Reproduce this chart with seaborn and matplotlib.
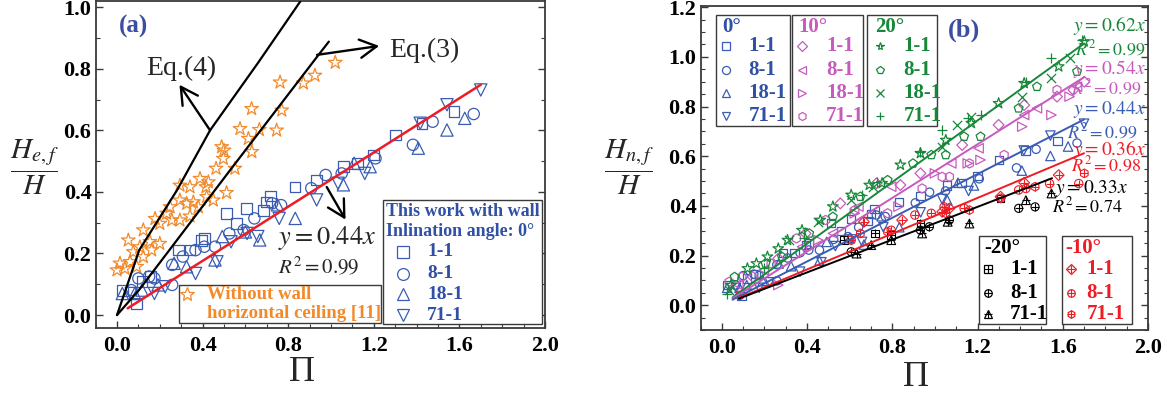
import matplotlib
matplotlib.use("Agg")
import matplotlib.pyplot as plt
import seaborn as sns
from matplotlib.patches import Rectangle
from matplotlib.ticker import MultipleLocator

# ---------------------------------------------------------------- data
# (a) flame extension, horizontal ceiling without wall (literature)
stars_x = [1.02, 0.925, 0.871, 0.762, 0.77, 0.629, 0.575, 0.665, 0.746, 0.614, 0.489, 0.5,
           0.497, 0.63, 0.551, 0.463, 0.427, 0.388, 0.294, 0.341, 0.416, 0.512, 0.419, 0.45,
           0.357, 0.294, 0.248, 0.326, 0.38, 0.232, 0.178, 0.256, 0.294, 0.2, 0.341, 0.123,
           0.154, 0.053, 0.107, 0.162, 0.2, 0.076, 0.014, 0.061, 0.123, 0.0, 0.037, 0.092]
stars_y = [0.82, 0.778, 0.753, 0.756, 0.665, 0.67, 0.605, 0.602, 0.60, 0.573, 0.546, 0.535,
           0.508, 0.53, 0.476, 0.476, 0.432, 0.443, 0.421, 0.416, 0.416, 0.397, 0.384, 0.373,
           0.367, 0.373, 0.351, 0.362, 0.351, 0.33, 0.313, 0.308, 0.308, 0.297, 0.321, 0.276,
           0.238, 0.243, 0.221, 0.211, 0.232, 0.205, 0.168, 0.173, 0.189, 0.146, 0.151, 0.157]

# inclination 0 deg (with wall)
a0_11_x = [0.025, 0.092, 0.117, 0.158, 0.287, 0.341, 0.396, 0.408, 0.512, 0.558, 0.606, 0.684,
           0.70, 0.717, 0.832, 0.933, 1.058, 1.125, 1.2, 1.3, 1.425, 1.575]
a0_11_y = [0.081, 0.038, 0.108, 0.125, 0.211, 0.211, 0.243, 0.249, 0.33, 0.298, 0.346, 0.34,
           0.367, 0.387, 0.416, 0.439, 0.482, 0.491, 0.52, 0.585, 0.623, 0.661]
a0_81_x = [0.067, 0.1, 0.15, 0.175, 0.258, 0.258, 0.308, 0.367, 0.408, 0.458, 0.525, 0.592,
           0.642, 0.725, 0.767, 0.908, 0.975, 1.05, 1.208, 1.383, 1.475, 1.667]
a0_81_y = [0.081, 0.119, 0.125, 0.119, 0.098, 0.163, 0.19, 0.211, 0.222, 0.222, 0.265, 0.276,
           0.314, 0.363, 0.357, 0.412, 0.455, 0.46, 0.509, 0.553, 0.628, 0.653]
a0_181_x = [0.025, 0.083, 0.117, 0.192, 0.267, 0.325, 0.458, 0.492, 0.60, 0.667, 0.75, 0.833,
            1.058, 1.108, 1.183, 1.408, 1.542, 1.625]
a0_181_y = [0.07, 0.07, 0.081, 0.098, 0.168, 0.157, 0.179, 0.255, 0.27, 0.244, 0.358, 0.314,
            0.423, 0.493, 0.482, 0.542, 0.601, 0.639]
a0_711_x = [0.067, 0.175, 0.225, 0.367, 0.467, 0.533, 0.608, 0.658, 0.758, 0.933, 1.033, 1.158,
            1.417, 1.542, 1.70]
a0_711_y = [0.07, 0.07, 0.092, 0.135, 0.173, 0.238, 0.265, 0.255, 0.314, 0.374, 0.428, 0.46,
            0.623, 0.683, 0.731]

# empirical correlations Eq.(4) and Eq.(3)
eq4_x = [0.0, 0.104, 0.28, 0.435, 0.66, 0.858]
eq4_y = [0.0, 0.211, 0.405, 0.60, 0.82, 1.02]
eq3_x = [0.0, 0.107, 0.528, 0.933, 0.99]
eq3_y = [0.0, 0.085, 0.47, 0.837, 0.888]

# (b) inclination 20 deg
a20_11_x = [0.043, 0.12, 0.162, 0.214, 0.265, 0.308, 0.376, 0.462, 0.521, 0.607, 0.692, 0.752,
            0.838, 0.932, 1.051, 1.171, 1.299, 1.419, 1.581, 1.701]
a20_11_y = [0.081, 0.148, 0.168, 0.195, 0.228, 0.262, 0.302, 0.343, 0.397, 0.444, 0.484, 0.491,
            0.565, 0.612, 0.665, 0.733, 0.813, 0.894, 0.961, 1.062]
a20_81_x = [0.06, 0.205, 0.282, 0.41, 0.521, 0.65, 0.778, 0.897, 0.983, 1.051, 1.137, 1.214,
            1.393, 1.479, 1.667]
a20_81_y = [0.114, 0.168, 0.195, 0.289, 0.356, 0.437, 0.504, 0.571, 0.605, 0.605, 0.679, 0.679,
            0.793, 0.88, 0.941]
a20_181_x = [0.034, 0.316, 0.453, 0.607, 0.709, 1.034, 1.103, 1.171, 1.41, 1.547, 1.632]
a20_181_y = [0.06, 0.262, 0.336, 0.423, 0.477, 0.638, 0.726, 0.759, 0.84, 0.914, 0.995]
a20_711_x = [0.026, 0.197, 0.385, 0.658, 0.726, 0.932, 1.034, 1.154, 1.214, 1.427, 1.547, 1.692]
a20_711_y = [0.047, 0.148, 0.269, 0.444, 0.497, 0.618, 0.706, 0.753, 0.766, 0.9, 0.995, 1.069]

# inclination 10 deg
a10_11_x = [0.145, 0.265, 0.393, 0.556, 0.726, 0.838, 0.932, 1.128, 1.299, 1.419, 1.573, 1.65, 1.701]
a10_11_y = [0.114, 0.188, 0.289, 0.41, 0.491, 0.484, 0.531, 0.645, 0.726, 0.806, 0.84, 0.867, 0.9]
a10_81_x = [0.077, 0.197, 0.376, 0.521, 0.641, 0.795, 1.077, 1.205, 1.419, 1.479, 1.667]
a10_81_y = [0.081, 0.141, 0.235, 0.289, 0.397, 0.477, 0.571, 0.632, 0.766, 0.793, 0.88]
a10_181_x = [0.265, 0.453, 0.624, 0.829, 1.0, 1.154, 1.214, 1.41, 1.547, 1.632]
a10_181_y = [0.081, 0.262, 0.37, 0.397, 0.531, 0.571, 0.585, 0.719, 0.766, 0.84]
a10_711_x = [0.034, 0.094, 0.231, 0.35, 0.487, 0.624, 0.778, 0.94, 1.034, 1.068, 1.162, 1.325, 1.573]
a10_711_y = [0.094, 0.114, 0.168, 0.269, 0.343, 0.383, 0.37, 0.47, 0.517, 0.517, 0.571, 0.605, 0.867]

# inclination -10 deg
am10_11_x = [0.667, 0.846, 1.034, 1.068, 1.308, 1.419, 1.581]
am10_11_y = [0.336, 0.343, 0.376, 0.39, 0.437, 0.493, 0.524]
am10_81_x = [0.085, 0.607, 0.795, 0.906, 0.983, 1.043, 1.137, 1.393, 1.427, 1.538, 1.675]
am10_81_y = [0.04, 0.262, 0.302, 0.363, 0.37, 0.396, 0.39, 0.464, 0.47, 0.49, 0.49]
am10_711_x = [0.65, 0.778, 1.051, 1.162, 1.308, 1.47, 1.701]
am10_711_y = [0.289, 0.296, 0.37, 0.383, 0.43, 0.477, 0.531]

# inclination -20 deg
am20_11_x = [0.573, 0.718, 0.795, 0.932, 1.308]
am20_11_y = [0.262, 0.289, 0.282, 0.329, 0.43]
am20_81_x = [0.607, 0.932, 0.974, 1.068, 1.393, 1.47]
am20_81_y = [0.215, 0.302, 0.316, 0.343, 0.39, 0.396]
am20_711_x = [0.632, 0.701, 0.795, 0.94, 1.06, 1.162, 1.427, 1.547]
am20_711_y = [0.208, 0.242, 0.262, 0.289, 0.336, 0.329, 0.423, 0.45]

# linear fits y = k * Pi
fit_a_slope = 0.44
fit_a_range = [0.05, 1.70]
fit_b_slopes = [0.62, 0.54, 0.44, 0.36, 0.33]
fit_b_r2 = ["0.99", "0.99", "0.99", "0.98", "0.74"]
fit_b_ranges = [[0.05, 1.70], [0.05, 1.70], [0.05, 1.70], [0.08, 1.70], [0.08, 1.55]]

x_ticks = [0.0, 0.4, 0.8, 1.2, 1.6, 2.0]
x_tick_labels = ["0.0", "0.4", "0.8", "1.2", "1.6", "2.0"]
ya_ticks = [0.0, 0.2, 0.4, 0.6, 0.8, 1.0]
ya_tick_labels = ["0.0", "0.2", "0.4", "0.6", "0.8", "1.0"]
yb_ticks = [0.0, 0.2, 0.4, 0.6, 0.8, 1.0, 1.2]
yb_tick_labels = ["0.0", "0.2", "0.4", "0.6", "0.8", "1.0", "1.2"]

# ---------------------------------------------------------------- style
sns.set_theme(style="ticks")
plt.rcParams["font.family"] = ["Liberation Serif", "DejaVu Serif"]
plt.rcParams["mathtext.fontset"] = "stix"

BLUE = "#3a5db3"
BLUE_T = "#3050a5"
ORANGE = "#f28a2a"
GREEN = "#17883a"
MAGENTA = "#c75bbd"
RED = "#ee1c25"
TAG = "#3c4ea2"
FRAME = "#3a3a3a"


def hollow(ax, x, y, marker, color, s, lw=0.9):
    sns.scatterplot(x=x, y=y, marker=marker, s=s, facecolor="none", edgecolor=color,
                    linewidth=lw, ax=ax, zorder=3)


def open_mark(ax, x, y, marker, color, s, lw=0.9):
    sns.scatterplot(x=x, y=y, marker=marker, s=s, color=color, linewidth=lw, ax=ax, zorder=3)


def crossed(ax, x, y, marker, color, s, lw=0.8):
    hollow(ax, x, y, marker, color, s, lw)
    open_mark(ax, x, y, "+", color, s * 0.9, lw)


def key(ax, x, y, marker, color, ms, cross=False, filled_style=True):
    if filled_style:
        ax.plot([x], [y], marker=marker, ms=ms, mfc="none", mec=color, mew=0.9,
                ls="none", clip_on=False, zorder=6)
    else:
        ax.plot([x], [y], marker=marker, ms=ms, color=color, mew=0.9,
                ls="none", clip_on=False, zorder=6)
    if cross:
        ax.plot([x], [y], marker="+", ms=ms * 0.95, color=color, mew=0.8,
                ls="none", clip_on=False, zorder=6)


def box(ax, x0, y0, x1, y1):
    ax.add_patch(Rectangle((x0, y0), x1 - x0, y1 - y0, fill=True, facecolor="white",
                           edgecolor=FRAME, lw=1.0, zorder=5, clip_on=False))


def arrow(ax, start, tip):
    ax.annotate("", xy=tip, xytext=start,
                arrowprops=dict(arrowstyle="->,head_length=0.55,head_width=0.3",
                                lw=1.7, color="black", shrinkA=0, shrinkB=0,
                                mutation_scale=22), zorder=4)


def frame(ax, xlim, ylim, yt, ytl, yminor):
    ax.set_xlim(*xlim)
    ax.set_ylim(*ylim)
    ax.set_xticks(x_ticks, x_tick_labels, fontweight="bold", fontsize=16)
    ax.set_yticks(yt, ytl, fontweight="bold", fontsize=16)
    ax.xaxis.set_minor_locator(MultipleLocator(0.1))
    ax.yaxis.set_minor_locator(MultipleLocator(yminor))
    ax.tick_params(which="both", direction="in", right=True, top=False, colors=FRAME,
                   labelcolor="black")
    ax.tick_params(which="major", length=5, width=1.0)
    ax.tick_params(which="minor", length=3, width=0.8)
    ax.tick_params(axis="x", pad=6)
    ax.tick_params(axis="y", pad=3)
    for sp in ax.spines.values():
        sp.set_visible(True)
        sp.set_color(FRAME)
        sp.set_linewidth(1.3)


fig = plt.figure(figsize=(11.67, 3.94), dpi=100)
ax_a = fig.add_axes([0.0819, 0.1675, 0.3851, 0.8300])
ax_b = fig.add_axes([0.6003, 0.1624, 0.3834, 0.8224])

# ---------------------------------------------------------------- panel (a)
ax = ax_a
hollow(ax, stars_x, stars_y, "*", ORANGE, 105, 0.9)
hollow(ax, a0_11_x, a0_11_y, "s", BLUE, 60)
hollow(ax, a0_81_x, a0_81_y, "o", BLUE, 66)
hollow(ax, a0_181_x, a0_181_y, "^", BLUE, 78)
hollow(ax, a0_711_x, a0_711_y, "v", BLUE, 78)

sns.lineplot(x=eq4_x, y=eq4_y, color="black", lw=1.6, ax=ax, zorder=4)
sns.lineplot(x=eq3_x, y=eq3_y, color="black", lw=1.6, ax=ax, zorder=4)
sns.lineplot(x=fit_a_range, y=[fit_a_slope * v for v in fit_a_range], color=RED, lw=1.8,
             ax=ax, zorder=4)

arrow(ax, (0.435, 0.60), (0.292, 0.748))
arrow(ax, (0.935, 0.845), (1.225, 0.874))
arrow(ax, (0.98, 0.416), (1.068, 0.31))
ax.text(0.30, 0.80, "Eq.(4)", fontsize=20, ha="center", va="center")
ax.text(1.435, 0.86, "Eq.(3)", fontsize=20, ha="center", va="center")
ax.text(0.075, 0.937, "(a)", fontsize=18, fontweight="bold", color=TAG, ha="center",
        va="center")
ax.text(0.983, 0.249, r"$y=%.2fx$" % fit_a_slope, fontsize=19, ha="center", va="center")
ax.text(0.942, 0.157, r"$R^2=0.99$", fontsize=15, ha="center", va="center")

# literature key
box(ax, 0.291, -0.027, 1.234, 0.097)
key(ax, 0.326, 0.068, "*", ORANGE, 10.5)
ax.text(0.419, 0.068, "Without wall", color=ORANGE, fontsize=13.5, fontweight="bold",
        va="center", zorder=6)
ax.text(0.419, 0.004, "horizontal ceiling [11]", color=ORANGE, fontsize=13.5,
        fontweight="bold", va="center", zorder=6)

# present-work key
box(ax, 1.244, -0.029, 1.985, 0.375)
ax.text(1.255, 0.335, "This work with wall", color=BLUE_T, fontsize=13,
        fontweight="bold", va="center", zorder=6)
ax.text(1.255, 0.27, "Inlination angle: 0°", color=BLUE_T, fontsize=13,
        fontweight="bold", va="center", zorder=6)
for (mk, lab, yy) in [("s", "1-1", 0.205), ("o", "8-1", 0.135), ("^", "18-1", 0.068),
                      ("v", "71-1", 0.0)]:
    key(ax, 1.338, yy, mk, BLUE, 8.5)
    ax.text(1.45, yy, lab, color=BLUE_T, fontsize=14, fontweight="bold", va="center",
            zorder=6)

frame(ax, (-0.1, 2.0), (-0.042, 1.02), ya_ticks, ya_tick_labels, 0.1)
ax.set_xlabel("Π", fontsize=26)
ax.xaxis.set_label_coords(0.459, -0.085)
ax.set_ylabel(r"$\dfrac{H_{e,f}}{H}$", fontsize=21, rotation=0, ha="center", va="center")
ax.yaxis.set_label_coords(-0.137, 0.49)

# ---------------------------------------------------------------- panel (b)
ax = ax_b
ms_b = 36
# 0 deg
hollow(ax, a0_11_x, a0_11_y, "s", BLUE, ms_b)
hollow(ax, a0_81_x, a0_81_y, "o", BLUE, ms_b)
hollow(ax, a0_181_x, a0_181_y, "^", BLUE, 46)
hollow(ax, a0_711_x, a0_711_y, "v", BLUE, 46)
# 10 deg
hollow(ax, a10_11_x, a10_11_y, "D", MAGENTA, 30)
hollow(ax, a10_81_x, a10_81_y, "<", MAGENTA, 46)
hollow(ax, a10_181_x, a10_181_y, ">", MAGENTA, 46)
hollow(ax, a10_711_x, a10_711_y, "h", MAGENTA, 44)
# 20 deg
hollow(ax, a20_11_x, a20_11_y, "*", GREEN, 65)
hollow(ax, a20_81_x, a20_81_y, "p", GREEN, 44)
open_mark(ax, a20_181_x, a20_181_y, "x", GREEN, 44)
open_mark(ax, a20_711_x, a20_711_y, "+", GREEN, 46)
# -20 deg
crossed(ax, am20_11_x, am20_11_y, "s", "black", 30)
crossed(ax, am20_81_x, am20_81_y, "o", "black", 34)
crossed(ax, am20_711_x, am20_711_y, "^", "black", 40)
# -10 deg
crossed(ax, am10_11_x, am10_11_y, "D", RED, 30)
crossed(ax, am10_81_x, am10_81_y, "o", RED, 36)
crossed(ax, am10_711_x, am10_711_y, "h", RED, 40)

fit_colors = [GREEN, MAGENTA, BLUE, RED, "black"]
for k, rng, c in zip(fit_b_slopes, fit_b_ranges, fit_colors):
    sns.lineplot(x=rng, y=[k * v for v in rng], color=c, lw=1.4, ax=ax, zorder=4)

eq_pos = [(1.126, 1.033, 1.99, 1.99), (0.951, 0.872, 1.99, 1.97),
          (0.790, 0.697, 1.99, 1.95), (0.628, 0.563, 1.99, 1.97),
          (0.468, 0.398, 1.905, 1.88)]
for k, r2, c, (ye, yr, xe, xr) in zip(fit_b_slopes, fit_b_r2, fit_colors, eq_pos):
    ax.text(xe, ye, r"$y=%.2fx$" % k, color=c, fontsize=14, ha="right", va="center",
            zorder=7)
    ax.text(xr, yr, r"$R^2=%s$" % r2, color=c, fontsize=13, ha="right", va="center",
            zorder=7)

ax.text(1.137, 1.109, "(b)", fontsize=19, fontweight="bold", color=TAG, ha="center",
        va="center")

# upper keys: 0, 10, 20 deg
groups_top = [
    ("0°", BLUE, BLUE_T, -0.027, 0.32, 0.0, 0.02, 0.124,
     [("s", True), ("o", True), ("^", True), ("v", True)], ["1-1", "8-1", "18-1", "71-1"]),
    ("10°", MAGENTA, MAGENTA, 0.328, 0.661, 0.359, 0.376, 0.489,
     [("D", True), ("<", True), (">", True), ("h", True)], ["1-1", "8-1", "18-1", "71-1"]),
    ("20°", GREEN, GREEN, 0.683, 1.011, 0.719, 0.742, 0.852,
     [("*", True), ("p", True), ("x", False), ("+", False)], ["1-1", "8-1", "18-1", "71-1"]),
]
rows_top = [1.042, 0.948, 0.856, 0.762]
for title, mc, tc, bx0, bx1, hx, mx, lx, marks, labs in groups_top:
    box(ax, bx0, 0.722, bx1, 1.169)
    ax.text(hx, 1.122, title, color=tc, fontsize=15, fontweight="bold", va="center",
            zorder=6)
    for (mk, filled), lab, yy in zip(marks, labs, rows_top):
        key(ax, mx, yy, mk, mc, 5.8 if mk not in ("D",) else 5.0, filled_style=filled)
        ax.text(lx, yy, lab, color=tc, fontsize=15, fontweight="bold", va="center",
                zorder=6)

# lower keys: -20, -10 deg
groups_bot = [
    ("-20°", "black", 1.205, 1.52, 1.232, 1.25, 1.352, ["s", "o", "^"], ["1-1", "8-1", "71-1"]),
    ("-10°", RED, 1.595, 1.926, 1.61, 1.637, 1.712, ["D", "o", "h"], ["1-1", "8-1", "71-1"]),
]
rows_bot = [0.145, 0.05, -0.035]
for title, c, bx0, bx1, hx, mx, lx, marks, labs in groups_bot:
    box(ax, bx0, -0.074, bx1, 0.278)
    ax.text(hx, 0.232, title, color=c, fontsize=15, fontweight="bold", va="center",
            zorder=6)
    for mk, lab, yy in zip(marks, labs, rows_bot):
        key(ax, mx, yy, mk, c, 5.4, cross=True)
        ax.text(lx, yy, lab, color=c, fontsize=15, fontweight="bold", va="center",
                zorder=6)

frame(ax, (-0.1, 2.0), (-0.1, 1.205), yb_ticks, yb_tick_labels, 0.05)
ax.set_xlabel("Π", fontsize=26)
ax.xaxis.set_label_coords(0.482, -0.095)
ax.set_ylabel(r"$\dfrac{H_{n,f}}{H}$", fontsize=21, rotation=0, ha="center", va="center")
ax.yaxis.set_label_coords(-0.16, 0.503)

fig.savefig("out.png", dpi=100)
